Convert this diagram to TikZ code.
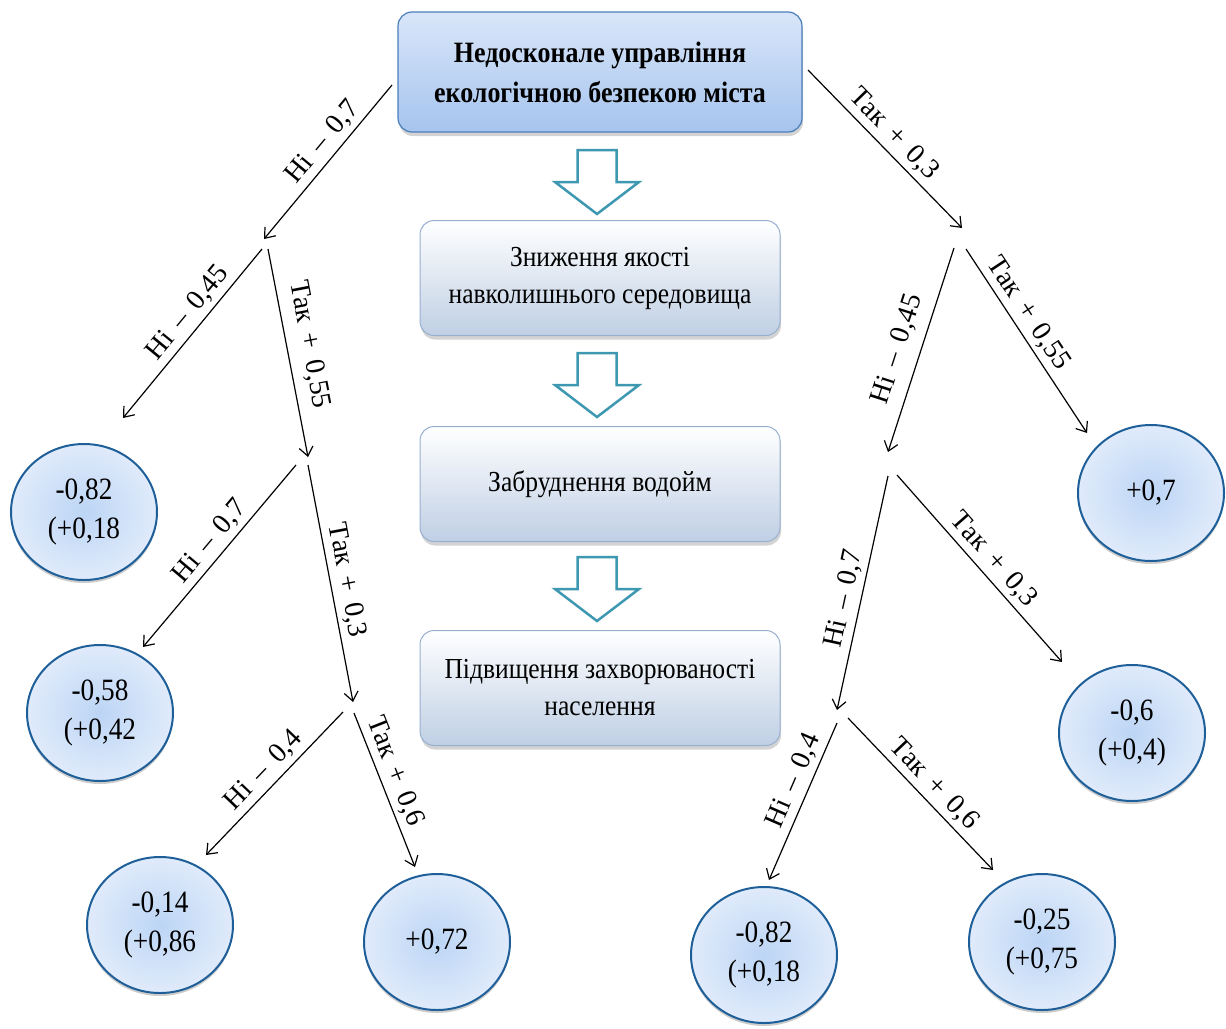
\documentclass[tikz,border=0pt]{standalone}
\usepackage{fontspec}
\setmainfont{Liberation Serif}[FakeStretch=0.88]
\newfontfamily\labfont{Liberation Serif}[WordSpace=1.6]
\usetikzlibrary{arrows.meta,shadows,shapes.geometric}
\definecolor{topline}{HTML}{4A7EBB}
\definecolor{toptop}{HTML}{D9E6F9}
\definecolor{topbot}{HTML}{A6C4EE}
\definecolor{midline}{HTML}{98B0CF}
\definecolor{midbot}{HTML}{BFCFE4}
\definecolor{leafline}{HTML}{1F5F99}
\definecolor{leafin}{HTML}{BCD5F5}
\definecolor{leafout}{HTML}{E0EBFB}
\definecolor{hollowc}{HTML}{3E98B2}
\begin{document}
\begin{tikzpicture}[x=1pt,y=-1pt,
  topbox/.style={rectangle, rounded corners=14pt, draw=topline, line width=1.2pt,
    top color=toptop, bottom color=topbot, minimum width=404pt, minimum height=120pt,
    align=center, font=\fontsize{29.5}{40}\selectfont\bfseries,
    drop shadow={opacity=0.35, shadow xshift=1pt, shadow yshift=-4pt}},
  midbox/.style={rectangle, rounded corners=14pt, draw=midline, line width=1pt,
    top color=white, bottom color=midbot, minimum width=360pt, minimum height=115pt,
    align=center, font=\fontsize{29}{37}\selectfont,
    drop shadow={opacity=0.35, shadow xshift=1pt, shadow yshift=-4pt}},
  leaf/.style={ellipse, draw=leafline, line width=2pt, inner color=leafin, outer color=leafout,
    minimum width=146pt, minimum height=136pt, inner sep=0pt, align=center,
    font=\fontsize{31}{39}\selectfont,
    drop shadow={opacity=0.4, shadow xshift=0pt, shadow yshift=-3pt}},
  hollow/.style={draw=hollowc, line width=2.5pt, fill=white, line join=miter},
  branch/.style={-{Straight Barb[length=9pt,width=14pt]}, line width=1.2pt},
  lab/.style={sloped, above=3pt, font=\labfont\fontsize{28}{30}\selectfont, inner sep=1.5pt}
]
\useasboundingbox (0,0) rectangle (1226,1028);

% central column
\node[topbox] (top) at (600,72) {Недосконале управління\\екологічною безпекою міста};
\node[midbox] (m1) at (600,278) {Зниження якості\\навколишнього середовища};
\node[midbox] (m2) at (600,484) {Забруднення водойм};
\node[midbox] (m3) at (600,688) {Підвищення захворюваності\\населення};

% hollow arrows
\foreach \t in {150,353,557}{
  \draw[hollow] (577.5,\t) -- (616.5,\t) -- (616.5,\t+32) -- (639,\t+32) -- (597,\t+64)
    -- (555,\t+32) -- (577.5,\t+32) -- cycle;
}

% leaves
\node[leaf] (c1) at (84,512) {-0,82\\(+0,18};
\node[leaf] (c2) at (100,713) {-0,58\\(+0,42};
\node[leaf] (c3) at (160,925) {-0,14\\(+0,86};
\node[leaf] (c4) at (437,942) {+0,72};
\node[leaf] (c5) at (1151,493) {+0,7};
\node[leaf] (c6) at (1132,733) {-0,6\\(+0,4)};
\node[leaf] (c7) at (764,955) {-0,82\\(+0,18};
\node[leaf] (c8) at (1042,942) {-0,25\\(+0,75};

% branch coordinates
\coordinate (a1s) at (392,85);  \coordinate (a1e) at (264,239);
\coordinate (a2s) at (262,249); \coordinate (a2e) at (123,418);
\coordinate (a3s) at (268,249); \coordinate (a3e) at (308,457);
\coordinate (a4s) at (296,465); \coordinate (a4e) at (143,647);
\coordinate (a5s) at (308,465); \coordinate (a5e) at (353,702);
\coordinate (a6s) at (343,712); \coordinate (a6e) at (206,855);
\coordinate (a7s) at (354,713); \coordinate (a7e) at (415,867);
\coordinate (b1s) at (808,70);  \coordinate (b1e) at (962,228);
\coordinate (b2s) at (954,248); \coordinate (b2e) at (888,452);
\coordinate (b3s) at (966,249); \coordinate (b3e) at (1087,433);
\coordinate (b4s) at (888,476); \coordinate (b4e) at (837,710);
\coordinate (b5s) at (897,475); \coordinate (b5e) at (1062,662);
\coordinate (b6s) at (837,723); \coordinate (b6e) at (769,880);
\coordinate (b7s) at (848,718); \coordinate (b7e) at (993,870);

% left branches
\draw[branch] (a1s) -- node[lab, pos=0.44] {Ні – 0,7} (a1e);
\draw[branch] (a2s) -- node[lab, pos=0.44] {Ні – 0,45} (a2e);
\draw[branch] (a3s) -- node[lab, pos=0.48, above=6pt] {Так + 0,55} (a3e);
\draw[branch] (a4s) -- node[lab, pos=0.48] {Ні – 0,7} (a4e);
\draw[branch] (a5s) -- node[lab, pos=0.50] {Так + 0,3} (a5e);
\draw[branch] (a6s) -- node[lab, pos=0.49] {Ні – 0,4} (a6e);
\draw[branch] (a7s) -- node[lab, pos=0.42] {Так + 0,6} (a7e);

% right branches
\draw[branch] (b1s) -- node[lab, pos=0.48] {Так + 0,3} (b1e);
\draw[branch] (b2s) -- node[lab, pos=0.53, above=6pt] {Ні – 0,45} (b2e);
\draw[branch] (b3s) -- node[lab, pos=0.40] {Так + 0,55} (b3e);
\draw[branch] (b4s) -- node[lab, pos=0.54] {Ні – 0,7} (b4e);
\draw[branch] (b5s) -- node[lab, pos=0.51] {Так + 0,3} (b5e);
\draw[branch] (b6s) -- node[lab, pos=0.41] {Ні – 0,4} (b6e);
\draw[branch] (b7s) -- node[lab, pos=0.51] {Так + 0,6} (b7e);
\end{tikzpicture}
\end{document}
